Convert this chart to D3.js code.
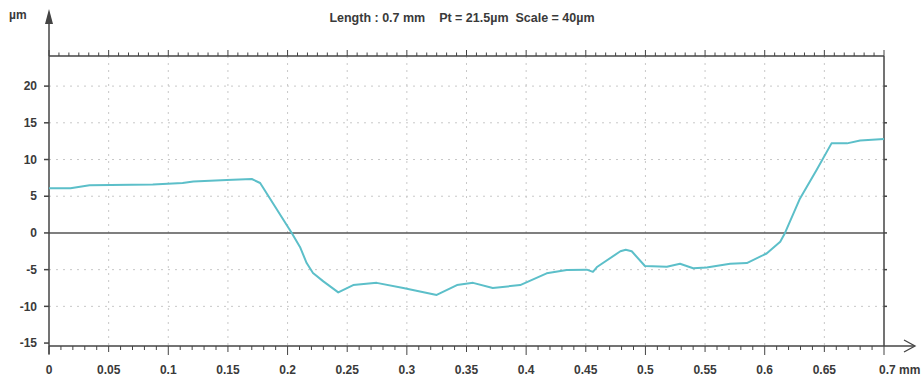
<!DOCTYPE html>
<html>
<head>
<meta charset="utf-8">
<script src="https://cdn.jsdelivr.net/npm/d3@7"></script>
<style>
  body { margin: 0; background: #fff; }
  svg { display: block; }
  text { font-family: "Liberation Sans Narrow", "Liberation Sans", Arial, sans-serif; fill: #3a3a3a; }
</style>
</head>
<body>
<div id="chart"></div>
<script>
// Profile data (mm, µm)
var profileX = [0, 0.018, 0.034, 0.087, 0.112, 0.121, 0.149, 0.170, 0.177, 0.2035, 0.2104, 0.216, 0.2213, 0.230,
    0.2425, 0.255, 0.2747, 0.297, 0.325, 0.342, 0.3555, 0.372, 0.395, 0.4172, 0.434, 0.4508, 0.456, 0.4597,
    0.479, 0.4835, 0.4885, 0.4996, 0.518, 0.529, 0.540, 0.5513, 0.571, 0.585, 0.6016, 0.613, 0.617,
    0.6296, 0.6436, 0.656, 0.669, 0.680, 0.700];
var profileY = [6.1, 6.1, 6.5, 6.6, 6.8, 7.0, 7.2, 7.35, 6.8, 0, -1.9, -4.1, -5.45, -6.6,
    -8.1, -7.1, -6.8, -7.5, -8.45, -7.1, -6.8, -7.5, -7.1, -5.5, -5.05, -5.0, -5.3, -4.6,
    -2.5, -2.3, -2.5, -4.5, -4.6, -4.2, -4.8, -4.7, -4.2, -4.1, -2.8, -1.2, 0,
    4.7, 8.6, 12.2, 12.2, 12.6, 12.8];
var xTicks = [0, 0.05, 0.1, 0.15, 0.2, 0.25, 0.3, 0.35, 0.4, 0.45, 0.5, 0.55, 0.6, 0.65, 0.7];
var yTicks = [-15, -10, -5, 0, 5, 10, 15, 20];
var titleText = "Length : 0.7 mm    Pt = 21.5µm  Scale = 40µm";

var width = 922, height = 384;
var plotLeft = 49, plotRight = 884, plotTop = 56, plotBottom = 346;

var svg = d3.select("#chart").append("svg")
    .attr("width", width)
    .attr("height", height);

var x = d3.scaleLinear().domain([0, 0.7]).range([plotLeft, plotRight]);
var y = d3.scaleLinear().domain([-15.4, 24.1]).range([plotBottom, plotTop]);

// Grid lines (dashed)
var grid = svg.append("g").attr("stroke", "#c8c8c8").attr("stroke-width", 1).attr("stroke-dasharray", "2,5");
grid.selectAll("line.vx")
    .data(xTicks.slice(1, -1))
    .enter().append("line")
    .attr("x1", d => x(d)).attr("x2", d => x(d))
    .attr("y1", plotTop).attr("y2", plotBottom);
grid.selectAll("line.hy")
    .data(yTicks.filter(d => d !== 0 && d !== -15))
    .enter().append("line")
    .attr("x1", plotLeft).attr("x2", plotRight)
    .attr("y1", d => y(d)).attr("y2", d => y(d));

// Zero line
svg.append("line")
    .attr("x1", plotLeft).attr("x2", plotRight)
    .attr("y1", y(0)).attr("y2", y(0))
    .attr("stroke", "#555").attr("stroke-width", 1.6);

// Top border with ticks (6 subdivisions per 0.05)
var axisCol = "#444";
svg.append("line")
    .attr("x1", plotLeft).attr("x2", plotRight)
    .attr("y1", plotTop).attr("y2", plotTop)
    .attr("stroke", axisCol).attr("stroke-width", 1.5);
var topTicks = d3.range(0, 84 + 1).map(i => i * 0.7 / 84);
svg.append("g").selectAll("line")
    .data(topTicks)
    .enter().append("line")
    .attr("x1", d => x(d)).attr("x2", d => x(d))
    .attr("y1", plotTop)
    .attr("y2", (d, i) => i % 6 === 0 ? plotTop - 6 : plotTop - 3.5)
    .attr("stroke", axisCol).attr("stroke-width", 1);

// Right border with small ticks
svg.append("line")
    .attr("x1", plotRight).attr("x2", plotRight)
    .attr("y1", plotTop).attr("y2", plotBottom)
    .attr("stroke", axisCol).attr("stroke-width", 1.5);
svg.append("g").selectAll("line")
    .data(yTicks.filter(d => d !== -15))
    .enter().append("line")
    .attr("x1", plotRight).attr("x2", plotRight + 3)
    .attr("y1", d => y(d)).attr("y2", d => y(d))
    .attr("stroke", axisCol).attr("stroke-width", 1.5);

// Bottom axis with ticks every 0.01
svg.append("line")
    .attr("x1", plotLeft).attr("x2", 914)
    .attr("y1", plotBottom).attr("y2", plotBottom)
    .attr("stroke", axisCol).attr("stroke-width", 1.5);
svg.append("path")
    .attr("d", "M904,340 L915," + plotBottom + " L904,352")
    .attr("fill", "none").attr("stroke", axisCol).attr("stroke-width", 1.3);
var botTicks = d3.range(0, 70 + 1).map(i => i / 100);
svg.append("g").selectAll("line")
    .data(botTicks)
    .enter().append("line")
    .attr("x1", d => x(d)).attr("x2", d => x(d))
    .attr("y1", plotBottom)
    .attr("y2", (d, i) => i % 10 === 0 ? plotBottom + 9 : (i % 5 === 0 ? plotBottom + 6 : plotBottom + 4))
    .attr("stroke", axisCol).attr("stroke-width", 1);

svg.append("g").selectAll("text")
    .data(xTicks)
    .enter().append("text")
    .attr("x", d => x(d))
    .attr("y", 374)
    .attr("text-anchor", d => d === 0.7 ? "start" : "middle")
    .attr("dx", d => d === 0.7 ? -5 : 0)
    .attr("font-size", 12)
    .attr("font-weight", 600)
    .text(d => d === 0.7 ? "0.7 mm" : d3.format("~g")(d));

// Left axis with arrow
svg.append("line")
    .attr("x1", plotLeft).attr("x2", plotLeft)
    .attr("y1", 14).attr("y2", 354)
    .attr("stroke", axisCol).attr("stroke-width", 1.5);
svg.append("path")
    .attr("d", "M" + (plotLeft - 4) + ",24 L" + plotLeft + ",9 L" + (plotLeft + 4) + ",24 Z")
    .attr("fill", axisCol);
svg.append("g").selectAll("line")
    .data(yTicks)
    .enter().append("line")
    .attr("x1", plotLeft - 5).attr("x2", plotLeft)
    .attr("y1", d => y(d)).attr("y2", d => y(d))
    .attr("stroke", axisCol).attr("stroke-width", 1.5);
svg.append("g").selectAll("text")
    .data(yTicks)
    .enter().append("text")
    .attr("x", 37)
    .attr("y", d => y(d))
    .attr("dy", "0.35em")
    .attr("text-anchor", "end")
    .attr("font-size", 12)
    .attr("font-weight", 600)
    .text(d => d);

svg.append("text")
    .attr("x", 9).attr("y", 19)
    .attr("font-size", 12)
    .attr("font-weight", 600)
    .text("µm");

// Title
svg.append("text")
    .attr("x", 462).attr("y", 22)
    .attr("text-anchor", "middle")
    .attr("font-size", 12.5)
    .attr("font-weight", 600)
    .attr("xml:space", "preserve")
    .style("white-space", "pre")
    .text(titleText);

// Profile curve
var line = d3.line()
    .x((d, i) => x(profileX[i]))
    .y(d => y(d));
svg.append("path")
    .datum(profileY)
    .attr("d", line)
    .attr("fill", "none")
    .attr("stroke", "#5cbfc9")
    .attr("stroke-width", 2)
    .attr("stroke-linejoin", "round");
</script>
</body>
</html>
